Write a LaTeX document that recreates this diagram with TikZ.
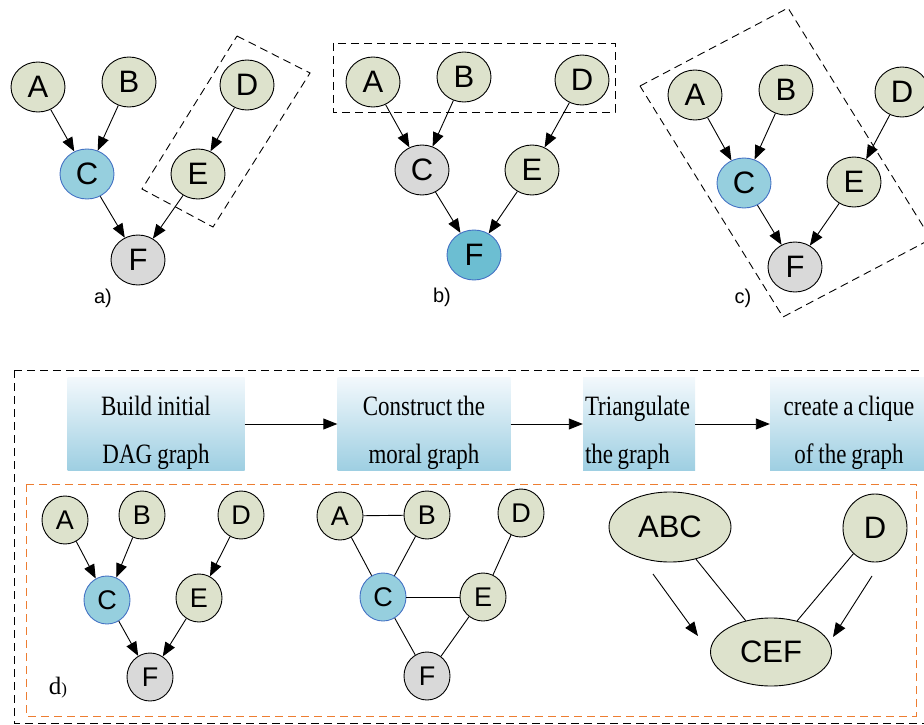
\documentclass[tikz,border=0pt]{standalone}
\usepackage{fontspec}
\setmainfont{Liberation Serif}
\setsansfont{Liberation Sans}
\newfontfamily\boxfont[FakeStretch=0.82]{Liberation Serif}
\newcommand\boxgap{\spaceskip=4.5pt plus 1pt\relax\rule{0pt}{38pt}}
\usetikzlibrary{shapes.geometric, arrows.meta, positioning, calc}
\definecolor{nodegreen}{RGB}{221,226,204}
\definecolor{nodegray}{RGB}{217,217,217}
\definecolor{nodeblue}{RGB}{150,207,222}
\definecolor{nodedeep}{RGB}{108,190,210}
\definecolor{rimblue}{RGB}{68,114,196}
\definecolor{dashorange}{RGB}{237,125,49}
\definecolor{boxtop}{RGB}{242,248,252}
\definecolor{boxbot}{RGB}{158,207,226}

\begin{document}
\begin{tikzpicture}[x=1pt, y=-1pt,
  var/.style={ellipse, draw, line width=0.9pt, fill=nodegreen, inner sep=0pt,
    minimum width=54pt, minimum height=50pt, font=\sffamily\fontsize{31}{31}\selectfont},
  lite/.style={var, minimum width=46pt, minimum height=48pt, font=\sffamily\fontsize{27}{27}\selectfont},
  obs/.style={fill=nodeblue, draw=rimblue},
  hid/.style={fill=nodegray},
  edge/.style={-{Triangle[length=14pt,width=11pt]}, line width=0.9pt},
  link/.style={line width=0.9pt},
  fence/.style={line width=0.9pt, dash pattern=on 8pt off 5pt},
  tag/.style={font=\sffamily\fontsize{20}{20}\selectfont},
  stepbox/.style={rectangle, top color=boxtop, bottom color=boxbot, inner sep=0pt,
    font=\boxfont\fontsize{28}{48}\selectfont}]
  \useasboundingbox (0,0) rectangle (924,725);

  % a) observed C
  \node[var] (aA) at (38,87) {A};
  \node[var] (aB) at (129,82) {B};
  \node[var] (aD) at (247,85) {D};
  \node[var, obs] (aC) at (87,174) {C};
  \node[var] (aE) at (198,174) {E};
  \node[var, hid] (aF) at (138,260) {F};
  \node[tag] (aT) at (103,298) {a)};
  \foreach \s/\t in {aA/aC, aB/aC, aD/aE, aC/aF, aE/aF}
    \draw[edge] (\s) -- (\t);
  \draw[fence] (237,36) -- (310,73) -- (213,227) -- (142,189) -- cycle;

  % b) observed F
  \node[var] (bA) at (373,82) {A};
  \node[var] (bB) at (464,77) {B};
  \node[var] (bD) at (582,80) {D};
  \node[var, hid] (bC) at (422,170) {C};
  \node[var] (bE) at (532,170) {E};
  \node[var, fill=nodedeep, draw=rimblue] (bF) at (474,255) {F};
  \node[tag] (bT) at (442,297) {b)};
  \foreach \s/\t in {bA/bC, bB/bC, bD/bE, bC/bF, bE/bF}
    \draw[edge] (\s) -- (\t);
  \draw[fence] (333,43) rectangle (615,112);

  % c) observed C, second case
  \node[var] (cA) at (695,95) {A};
  \node[var] (cB) at (786,90) {B};
  \node[var] (cD) at (902,92) {D};
  \node[var, obs] (cC) at (744,183) {C};
  \node[var] (cE) at (854,182) {E};
  \node[var, hid] (cF) at (795,267) {F};
  \node[tag] (cT) at (743,298) {c)};
  \foreach \s/\t in {cA/cC, cB/cC, cD/cE, cC/cF, cE/cF}
    \draw[edge] (\s) -- (\t);
  \draw[fence] (640,86) -- (788,8) -- (931,239) -- (783,317) -- cycle;

  % d) steps of the junction tree
  \draw[fence] (14,370) -- (940,370);
  \draw[fence] (14,370) -- (14,723) -- (940,723);
  \draw[fence, draw=dashorange] (26,484) rectangle (916,716);

  \node[stepbox, minimum width=177pt, minimum height=92pt, text width=177pt, align=center] (s1) at (156,424) {\boxgap Build initial\\DAG graph};
  \node[stepbox, minimum width=173pt, minimum height=92pt, text width=173pt, align=center] (s2) at (424,424) {\boxgap Construct the\\moral graph};
  \node[stepbox, minimum width=112pt, minimum height=82pt, text width=108pt, align=left] (s3) at (639,424) {\boxgap Triangulate\\the graph};
  \node[stepbox, minimum width=158pt, minimum height=82pt, text width=158pt, align=center] (s4) at (849,424) {\boxgap create a clique\\of the graph};
  \foreach \s/\t in {s1/s2, s2/s3, s3/s4}
    \draw[edge] (\s) -- (\t);

  % DAG
  \node[lite] (dA) at (65,520) {A};
  \node[lite] (dB) at (142,515) {B};
  \node[lite] (dD) at (241,515) {D};
  \node[lite, obs] (dC) at (107,600) {C};
  \node[lite] (dE) at (199,598) {E};
  \node[lite, hid] (dF) at (150,677) {F};
  \node[font=\fontsize{25}{25}\selectfont] (dT) at (58,688) {d{\fontsize{17}{17}\selectfont)}};
  \foreach \s/\t in {dA/dC, dB/dC, dD/dE, dC/dF, dE/dF}
    \draw[edge] (\s) -- (\t);

  % moral graph
  \node[lite] (mA) at (340,516) {A};
  \node[lite] (mB) at (427,515) {B};
  \node[lite] (mD) at (521,513) {D};
  \node[lite, obs] (mC) at (383,597) {C};
  \node[lite] (mE) at (483,597) {E};
  \node[lite, hid] (mF) at (427,676) {F};
  \foreach \s/\t in {mA/mB, mA/mC, mB/mC, mC/mE, mD/mE, mC/mF, mE/mF}
    \draw[link] (\s) -- (\t);

  % cliques
  \node[var, minimum width=122pt, minimum height=70pt] (jABC) at (670,527) {ABC};
  \node[var, minimum width=64pt, minimum height=68pt] (jD) at (875,528) {D};
  \node[var, minimum width=121pt, minimum height=68pt] (jCEF) at (771,652) {CEF};
  \draw[link] (jABC) -- (jCEF);
  \draw[link] (jD) -- (jCEF);
  \coordinate (p1) at (653,574);
  \coordinate (q1) at (698,636);
  \coordinate (p2) at (872,576);
  \coordinate (q2) at (833,637);
  \draw[edge] (p1) -- (q1);
  \draw[edge] (p2) -- (q2);
\end{tikzpicture}
\end{document}
